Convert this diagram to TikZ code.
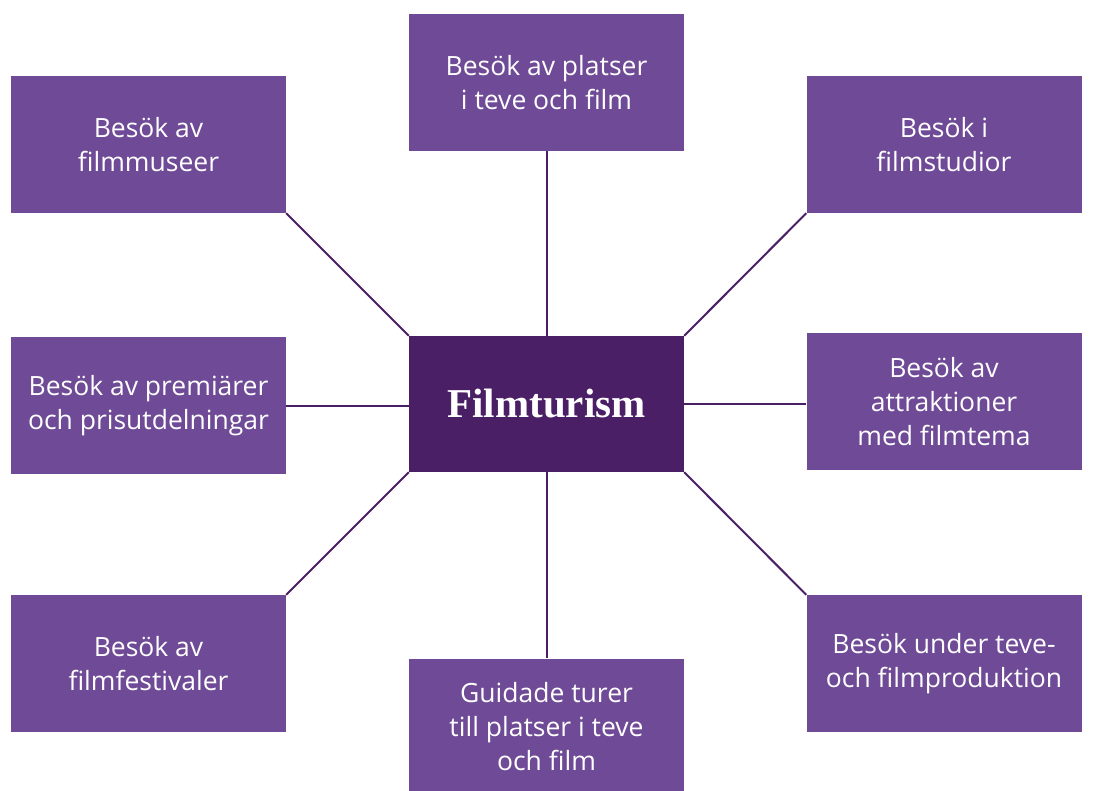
\documentclass[tikz,border=0pt]{standalone}
\usepackage{fontspec}
\setmainfont{Open Sans}
\newfontfamily\headfont{Liberation Serif}

\definecolor{boxpurple}{HTML}{6F4A96}
\definecolor{hubpurple}{HTML}{4B1F66}

\begin{document}
\begin{tikzpicture}[x=1pt, y=-1pt,
    topic/.style={fill=boxpurple, text=white, minimum width=275pt, minimum height=137pt,
        align=center, inner sep=0pt, font=\fontsize{26.5}{34}\selectfont},
    hub/.style={fill=hubpurple, text=white, minimum width=275pt, minimum height=136pt,
        inner sep=0pt, font=\headfont\bfseries\fontsize{41}{48}\selectfont},
    spoke/.style={draw=hubpurple, line width=2pt}]
    % Frame
    \useasboundingbox (0,0) rectangle (1105,791);
    \clip (0,0) rectangle (1105,791);

    % Draw Centre Box
    \node[hub] (hub) at (546.5,404) {Filmturism};

    % Draw Outer Boxes
    % -- top row
    \node[topic] (top) at (546.5,82.5) {Besök av platser\\i teve och film};
    \node[topic] (topleft) at (148.5,144.5) {Besök av\\filmmuseer};
    \node[topic] (topright) at (944,144.5) {Besök i\\filmstudior};

    % -- middle row
    \node[topic] (left) at (148.5,405.5) {Besök av premiärer\\och prisutdelningar};
    \node[topic] (right) at (944,401.5) {Besök av\\attraktioner\\med filmtema};

    % -- bottom row
    \node[topic] (botleft) at (148.5,663.5) {Besök av\\filmfestivaler};
    \node[topic] (botright) at (944,663.5) {Besök under teve-\\och filmproduktion};
    \node[topic] (bot) at (546.5,727) {Guidade turer\\till platser i teve\\och film};

    % Draw Spokes
    \draw[spoke] (top.south) -- (hub.north);
    \draw[spoke] (bot.north) -- (hub.south);
    \draw[spoke] (left.east) -- (hub.west |- left.east);
    \draw[spoke] (hub.east) -- (right.west |- hub.east);
    \draw[spoke] (topleft.south east) -- (hub.north west);
    \draw[spoke] (topright.south west) -- (hub.north east);
    \draw[spoke] (botleft.north east) -- (hub.south west);
    \draw[spoke] (botright.north west) -- (hub.south east);
\end{tikzpicture}
\end{document}
